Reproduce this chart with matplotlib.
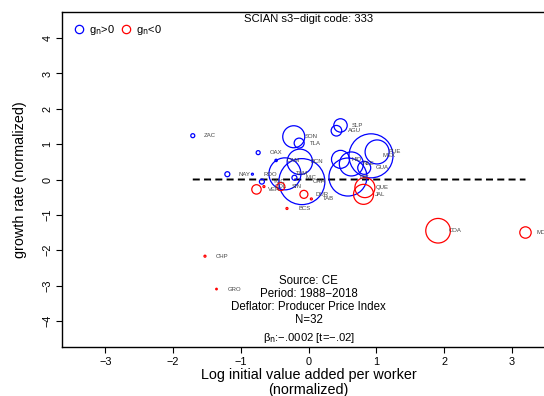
import matplotlib
matplotlib.use("Agg")
import matplotlib.pyplot as plt
from matplotlib.lines import Line2D

plt.rcParams['font.family'] = ['Liberation Sans', 'DejaVu Sans']

# ---- data ----
states = ["ZAC", "OAX", "NAY", "ROO", "CAM", "SON", "TLA", "BCN", "TAM", "MIC",
          "CHH", "YUC", "VER", "COL", "SIN", "SLP", "AGU", "HID", "DIF", "NLE",
          "GUA", "MEX", "PUE", "QUE", "JAL", "DUR", "TAB", "BCS", "COA", "MOR",
          "CHP", "GRO"]
log_va = [-1.71, -0.745, -1.20, -0.83, -0.48, -0.22, -0.14, -0.13, -0.35, -0.21,
          -0.10, -0.69, -0.77, -0.66, -0.41, 0.47, 0.41, 0.47, 0.58, 0.63,
          0.82, 0.92, 1.01, 0.83, 0.81, -0.07, 0.04, -0.32, 1.91, 3.20,
          -1.53, -1.36]
growth = [1.24, 0.76, 0.15, 0.15, 0.54, 1.21, 1.03, 0.50, 0.16, 0.05,
          -0.06, -0.06, -0.28, -0.20, -0.20, 1.53, 1.38, 0.57, 0.07, 0.44,
          0.33, 0.67, 0.78, -0.23, -0.42, -0.42, -0.55, -0.82, -1.45, -1.50,
          -2.17, -3.10]
weight = [2.0, 2.0, 2.5, 1.0, 1.2, 11.0, 5.0, 12.7, 16.0, 2.5,
          23.0, 2.5, 4.7, 1.0, 4.0, 6.7, 5.3, 9.0, 19.0, 12.0,
          6.5, 22.0, 12.0, 10.0, 10.0, 4.0, 1.0, 1.0, 12.3, 5.7,
          1.0, 0.8]
positive = [1, 1, 1, 1, 1, 1, 1, 1, 1, 1,
            1, 1, 0, 0, 0, 1, 1, 1, 1, 1,
            1, 1, 1, 0, 0, 0, 0, 0, 0, 0,
            0, 0]
slope = -0.0002
intercept = 0.0
x_ticks = [-3, -2, -1, 0, 1, 2, 3]
y_ticks = [-4, -3, -2, -1, 0, 1, 2, 3, 4]

DPI = 100
fig = plt.figure(figsize=(5.44, 3.96), dpi=DPI)
ax = fig.add_axes([62 / 544, 1 - 347 / 396, (555.3 - 62) / 544, (347 - 12) / 396])
ax.set_xlim(-3.64, 3.64)
ax.set_ylim(-4.74, 4.74)

blue = "#0000FF"
red = "#FF0000"
for name, xv, yv, w, p in zip(states, log_va, growth, weight, positive):
    s = (2 * w * 72 / DPI) ** 2
    ax.scatter([xv], [yv], s=s, facecolors="none", edgecolors=blue if p else red,
               linewidths=0.9, zorder=3)
    ax.annotate(name, (xv, yv), xytext=(8, 0), textcoords="offset points",
                ha="left", va="center", fontsize=4.3, color="#444444", zorder=4)

xmin, xmax = min(log_va), max(log_va)
ax.plot([xmin, xmax], [intercept + slope * xmin, intercept + slope * xmax],
        color="black", lw=1.4, dashes=(3.6, 2.2), zorder=2)

ax.set_xticks(x_ticks)
ax.set_yticks(y_ticks)
ax.set_xticklabels([str(t).replace("-", "\u2212") for t in x_ticks], fontsize=7.8)
ax.set_yticklabels([str(t).replace("-", "\u2212") for t in y_ticks], fontsize=7.8,
                   rotation=90, va="center")
ax.tick_params(direction="out", length=4, width=0.8, pad=3)
for sp in ax.spines.values():
    sp.set_linewidth(1.0)

ax.set_xlabel("Log initial value added per worker\n(normalized)", fontsize=10.4,
              labelpad=1, linespacing=1.1)
ax.set_ylabel("growth rate (normalized)", fontsize=10.4, labelpad=11)

ax.text(0, 4.55, "SCIAN s3\u2212digit code: 333", ha="center", va="center",
        fontsize=8.1)

ax.text(0, -2.70, "Source: CE\nPeriod: 1988\u22122018\nDeflator: Producer Price Index\nN=32",
        ha="center", va="top", fontsize=8.3, linespacing=1.12)
ax.text(0, -4.48, "\u03b2$_\\mathrm{n}$:\u2212.0002 [t=\u2212.02]", ha="center",
        va="center", fontsize=8.1)

handles = [Line2D([], [], marker="o", ls="none", mfc="none", mec=blue, ms=6, mew=0.9),
           Line2D([], [], marker="o", ls="none", mfc="none", mec=red, ms=6, mew=0.9)]
ax.legend(handles, ["g$_\\mathrm{n}$>0", "g$_\\mathrm{n}$<0"], loc="upper left",
          ncol=2, frameon=False, fontsize=8, handletextpad=0.4, columnspacing=0.5,
          handlelength=1.0, borderaxespad=0.6, bbox_to_anchor=(0.0, 1.0))

fig.savefig("out.png", dpi=DPI)
